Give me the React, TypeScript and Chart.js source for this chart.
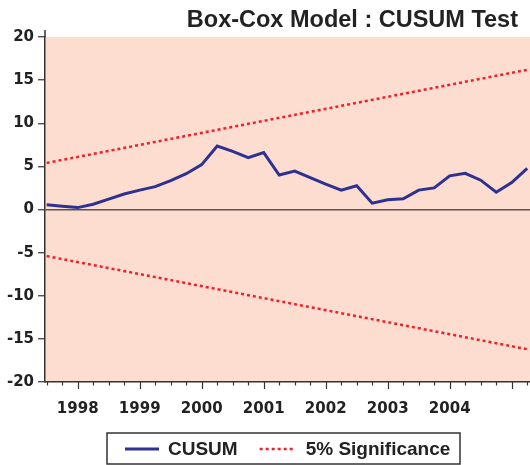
import React, { useEffect, useRef } from 'react';
import { Chart, registerables } from 'chart.js';

Chart.register(...registerables);

const titleText = 'Box-Cox Model : CUSUM Test';
const seriesNames = ['CUSUM', '5% Significance'];

const quarters = [
  '1997Q3', '1997Q4',
  '1998Q1', '1998Q2', '1998Q3', '1998Q4',
  '1999Q1', '1999Q2', '1999Q3', '1999Q4',
  '2000Q1', '2000Q2', '2000Q3', '2000Q4',
  '2001Q1', '2001Q2', '2001Q3', '2001Q4',
  '2002Q1', '2002Q2', '2002Q3', '2002Q4',
  '2003Q1', '2003Q2', '2003Q3', '2003Q4',
  '2004Q1', '2004Q2', '2004Q3', '2004Q4',
  '2005Q1', '2005Q2',
];

const yearLabels = ['1998', '1999', '2000', '2001', '2002', '2003', '2004'];

const cusum = [
  0.54, 0.38,
  0.22, 0.61, 1.2, 1.8,
  2.25, 2.65, 3.35, 4.15,
  5.2, 7.35, 6.75, 6.0,
  6.6, 4.0, 4.45, 3.7,
  2.95, 2.25, 2.75, 0.73,
  1.12, 1.24, 2.25, 2.5,
  3.9, 4.2, 3.4, 2.0,
  3.12, 4.77,
];

// 5% significance bounds at the first and last quarter (straight lines)
const sigUpper = [5.4, 16.2];
const sigLower = [-5.4, -16.2];

const yMin = -20;
const yMax = 20;
const yStep = 5;

const BLUE = '#2E3192';
const RED = '#F0202A';
const PINK = '#FCDDCF';
const AXIS = '#333333';
const TEXT = '#222222';

function isMajor(i: number) {
  return quarters[i].endsWith('Q1');
}

export default function App() {
  const canvasRef = useRef<HTMLCanvasElement | null>(null);

  useEffect(() => {
    const canvas = canvasRef.current;
    if (!canvas) return;
    const last = quarters.length - 1;

    const bgPlugin = {
      id: 'bgPlugin',
      beforeDraw(chart: any) {
        const { ctx, chartArea } = chart;
        ctx.save();
        ctx.fillStyle = PINK;
        ctx.fillRect(chartArea.left, chartArea.top, chartArea.right - chartArea.left, chartArea.bottom - chartArea.top);
        ctx.restore();
      },
      afterDraw(chart: any) {
        const { ctx, chartArea } = chart;
        const xs = chart.scales.x;
        ctx.save();
        // title
        ctx.fillStyle = TEXT;
        ctx.font = 'bold 23.5px "Liberation Sans", Arial, sans-serif';
        ctx.textAlign = 'right';
        ctx.textBaseline = 'alphabetic';
        ctx.fillText(titleText, 518, 27);

        // y axis line extension above plot
        ctx.strokeStyle = AXIS;
        ctx.lineWidth = 1.5;
        ctx.beginPath();
        ctx.moveTo(chartArea.left, chartArea.top - 7);
        ctx.lineTo(chartArea.left, chartArea.top);
        ctx.stroke();

        // x tick marks
        ctx.lineWidth = 1.2;
        for (let i = 0; i < quarters.length; i++) {
          const px = Math.round(xs.getPixelForValue(i)) + 0.5;
          const len = isMajor(i) ? 7 : 3.5;
          ctx.beginPath();
          ctx.moveTo(px, chartArea.bottom);
          ctx.lineTo(px, chartArea.bottom + len);
          ctx.stroke();
        }

        // legend
        const boxL = 107;
        const boxT = 433;
        const boxW = 353;
        const boxH = 31;
        ctx.strokeStyle = AXIS;
        ctx.lineWidth = 1.5;
        ctx.strokeRect(boxL, boxT, boxW, boxH);
        const cy = boxT + 16;
        ctx.font = 'bold 19px "Liberation Sans", Arial, sans-serif';
        ctx.textAlign = 'left';
        ctx.textBaseline = 'middle';
        let x = boxL + 18;
        // CUSUM
        ctx.strokeStyle = BLUE;
        ctx.lineWidth = 3;
        ctx.setLineDash([]);
        ctx.beginPath();
        ctx.moveTo(x, cy);
        ctx.lineTo(x + 34, cy);
        ctx.stroke();
        x += 34 + 9;
        ctx.fillStyle = TEXT;
        ctx.fillText(seriesNames[0], x, cy + 1);
        x += ctx.measureText(seriesNames[0]).width + 22;
        // significance
        ctx.strokeStyle = RED;
        ctx.lineWidth = 2.5;
        ctx.setLineDash([3, 3]);
        ctx.beginPath();
        ctx.moveTo(x, cy);
        ctx.lineTo(x + 34, cy);
        ctx.stroke();
        ctx.setLineDash([]);
        x += 34 + 12;
        ctx.fillText(seriesNames[1], x, cy + 1);
        ctx.restore();
      },
    };

    const chart = new Chart(canvas, {
      type: 'line',
      data: {
        datasets: [
          {
            label: seriesNames[0],
            data: cusum.map((v, i) => ({ x: i, y: v })),
            borderColor: BLUE,
            borderWidth: 3,
            pointRadius: 0,
            tension: 0,
            fill: false,
          },
          {
            label: seriesNames[1],
            data: [
              { x: 0, y: sigUpper[0] },
              { x: last, y: sigUpper[1] },
            ],
            borderColor: RED,
            borderWidth: 2.5,
            borderDash: [3, 3],
            pointRadius: 0,
            fill: false,
          },
          {
            label: seriesNames[1] + ' (lower)',
            data: [
              { x: 0, y: sigLower[0] },
              { x: last, y: sigLower[1] },
            ],
            borderColor: RED,
            borderWidth: 2.5,
            borderDash: [3, 3],
            pointRadius: 0,
            fill: false,
          },
        ],
      },
      options: {
        animation: false,
        responsive: false,
        maintainAspectRatio: false,
        layout: { padding: { top: 37, left: 0, right: 0, bottom: 0 } },
        plugins: {
          legend: { display: false },
          title: { display: false },
          tooltip: { enabled: false },
        },
        scales: {
          x: {
            type: 'linear',
            min: -0.11,
            max: 31.18,
            afterFit(scale: any) {
              scale.height = 83;
              scale.paddingLeft = 0;
              scale.paddingRight = 0;
            },
            afterBuildTicks(scale: any) {
              scale.ticks = quarters.map((_, i) => ({ value: i }));
            },
            ticks: {
              autoSkip: false,
              maxRotation: 0,
              minRotation: 0,
              padding: 11,
              color: TEXT,
              font: { family: '"DejaVu Sans", sans-serif', size: 15, weight: 'bold' },
              callback(value: any) {
                const i = Math.round(Number(value));
                if (i < 0 || i >= quarters.length) return '';
                const yr = quarters[i].slice(0, 4);
                return isMajor(i) && yearLabels.includes(yr) ? yr : '';
              },
            },
            grid: {
              display: true,
              drawOnChartArea: false,
              drawTicks: true,
              tickLength: 7,
              tickColor: 'transparent',
            },
            border: { display: true, color: AXIS, width: 1.5 },
          },
          y: {
            type: 'linear',
            min: yMin,
            max: yMax,
            afterFit(scale: any) {
              scale.width = 45;
            },
            ticks: {
              stepSize: yStep,
              padding: 4,
              color: TEXT,
              font: { family: '"DejaVu Sans", sans-serif', size: 15, weight: 'bold' },
            },
            grid: {
              display: true,
              drawOnChartArea: true,
              drawTicks: true,
              tickLength: 7,
              tickColor: AXIS,
              tickWidth: 1.2,
              lineWidth: 1.5,
              color: (c: any) => (c.tick && c.tick.value === 0 ? '#555555' : 'transparent'),
            },
            border: { display: true, color: AXIS, width: 1.5 },
          },
        },
      },
      plugins: [bgPlugin],
    } as any);

    return () => chart.destroy();
  }, []);

  return (
    <div style={{ position: 'absolute', left: 0, top: 0, width: 530, height: 465, background: '#ffffff' }}>
      <canvas ref={canvasRef} width={530} height={465} style={{ display: 'block', width: 530, height: 465 }} />
    </div>
  );
}
